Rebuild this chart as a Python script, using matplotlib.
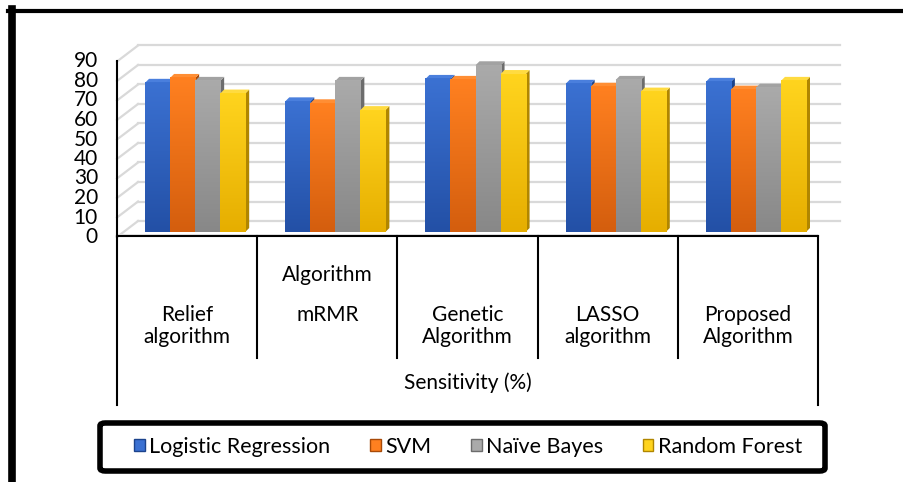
import numpy as np
import matplotlib.pyplot as plt
from matplotlib.patches import Polygon, FancyBboxPatch
from matplotlib.lines import Line2D
from matplotlib.colors import LinearSegmentedColormap
from matplotlib.transforms import blended_transform_factory

plt.rcParams['font.family'] = ['Lato', 'DejaVu Sans']

# data
methods = ["Relief\nalgorithm", "mRMR", "Genetic\nAlgorithm", "LASSO\nalgorithm", "Proposed\nAlgorithm"]
extra_label = "Algorithm"          # stray line shown above "mRMR"
group_title = "Sensitivity (%)"
classifiers = ["Logistic Regression", "SVM", "Naïve Bayes", "Random Forest"]
logistic = [76.5, 67, 78.5, 76, 77]
svm = [79, 66, 78, 74.5, 73]
naive_bayes = [77.5, 77.5, 85.5, 78, 74]
random_forest = [71, 62.5, 81, 72, 77.5]
yticks = [0, 10, 20, 30, 40, 50, 60, 70, 80, 90]

series = [logistic, svm, naive_bayes, random_forest]
# (top of front face, bottom of front face, side, cap)
colors = [("#3B71D2", "#2350A6", "#1C438C", "#4A7FDD"),
          ("#FF8020", "#D45E0E", "#A84A08", "#FF8E34"),
          ("#AAAAAA", "#888888", "#6C6C6C", "#A2A2A2"),
          ("#FFD41E", "#E6AE00", "#B08600", "#FFDB40")]

W, H = 904, 482
fig = plt.figure(figsize=(W / 100, H / 100), dpi=100)

def fy(y):
    return 1 - y / H

# plotting area: 1 unit = 1.95 px, bar floor at pixel row 232
px_per_unit = 1.95
ax = fig.add_axes([117 / W, fy(240), 701 / W, 200 / H])
ymin = -8 / px_per_unit
ax.axis("off")

cat_px = 140.0
front_dy = -5 / px_per_unit
back_dy = 11 / px_per_unit
back_dx = 21 / cat_px

# back wall grid and side wall lines
grid_c = "#D9D9D9"
for v in yticks:
    ax.plot([-0.5 + back_dx, 4.66], [v + back_dy, v + back_dy], color=grid_c, lw=1.6,
            clip_on=False, zorder=1)
    ax.plot([-0.5, -0.5 + back_dx], [v + front_dy, v + back_dy], color=grid_c, lw=1.6,
            clip_on=False, zorder=1)
    ax.text(-0.5 - 19 / cat_px, v + front_dy, str(v), ha="right", va="center",
            fontsize=15, color="black")

# floor shadow edge
ax.plot([-0.5, 4.5], [front_dy + 1.2, front_dy + 1.2], color="#E6E6E6", lw=2, zorder=1)

# front y axis
ax.plot([-0.5, -0.5], [front_dy, 90 + front_dy], color="black", lw=1.5, clip_on=False, zorder=5)

# 3d-ish bars
bar_w = 25 / cat_px
start = 28 / cat_px
ddx = 4 / cat_px
ddy = 4 / px_per_unit
grad = np.linspace(0, 1, 64).reshape(-1, 1)
for i in range(len(methods)):
    for k, vals in enumerate(series):
        v = vals[i]
        top_c, bot_c, side_c, cap_c = colors[k]
        xl = i - 0.5 + start + k * bar_w
        xr = xl + bar_w
        z = 10 + k * 3
        ax.add_patch(Polygon([(xr, 0), (xr, v), (xr + ddx, v + ddy), (xr + ddx, ddy)],
                             closed=True, facecolor=side_c, edgecolor="none", zorder=z))
        ax.add_patch(Polygon([(xl, v), (xr, v), (xr + ddx, v + ddy), (xl + ddx, v + ddy)],
                             closed=True, facecolor=cap_c, edgecolor="none", zorder=z + 1))
        cmap = LinearSegmentedColormap.from_list("g%d" % k, [bot_c, top_c])
        ax.imshow(grad, extent=(xl, xr, 0, v), origin="lower", cmap=cmap,
                  aspect="auto", zorder=z + 2, interpolation="bilinear")
ax.set_xlim(-0.5, 4.5)
ax.set_ylim(ymin, ymin + 200 / px_per_unit)

# category table under the axis
tr = blended_transform_factory(ax.transData, fig.transFigure)
lc = dict(color="black", lw=1.5, transform=tr, clip_on=False)
ax.add_line(Line2D([-0.5, 4.5], [fy(236), fy(236)], **lc))
for b in range(len(methods) + 1):
    bottom = 405 if b in (0, len(methods)) else 358
    ax.add_line(Line2D([b - 0.5, b - 0.5], [fy(236), fy(bottom)], **lc))

lab_fs = 15
for i, name in enumerate(methods):
    lines = name.split("\n")
    for j, line in enumerate(lines):
        ax.text(i, fy(315 + 22 * j), line, ha="center", va="center", fontsize=lab_fs,
                transform=tr)
ax.text(1, fy(275), extra_label, ha="center", va="center", fontsize=lab_fs, transform=tr)
ax.text(2, fy(383), group_title, ha="center", va="center", fontsize=lab_fs, transform=tr)

# legend: entries spread over the inner area, box drawn separately
handles = [plt.Rectangle((0, 0), 1, 1, facecolor=colors[k][0], edgecolor=colors[k][2], lw=1)
           for k in range(len(classifiers))]
fig.legend(handles, classifiers, loc="center", ncol=4, mode="expand",
           bbox_to_anchor=(134 / W, fy(462), 668 / W, 30 / H),
           fontsize=15.5, handlelength=0.5, handleheight=0.5, handletextpad=0.2,
           borderpad=0, borderaxespad=0, frameon=False)
fig.add_artist(FancyBboxPatch((100 / W, fy(471)), 725 / W, 48 / H,
                              boxstyle="round,pad=0,rounding_size=0.006",
                              transform=fig.transFigure, facecolor="white",
                              edgecolor="black", lw=4, zorder=0))

# outer frame (top and left edges)
fig.add_artist(Line2D([8 / W, 1], [fy(10.5), fy(10.5)], color="black", lw=3,
                      transform=fig.transFigure))
fig.add_artist(Line2D([11.5 / W, 11.5 / W], [fy(9), 0], color="black", lw=5.5,
                      transform=fig.transFigure))

fig.savefig("out.png", dpi=100)
